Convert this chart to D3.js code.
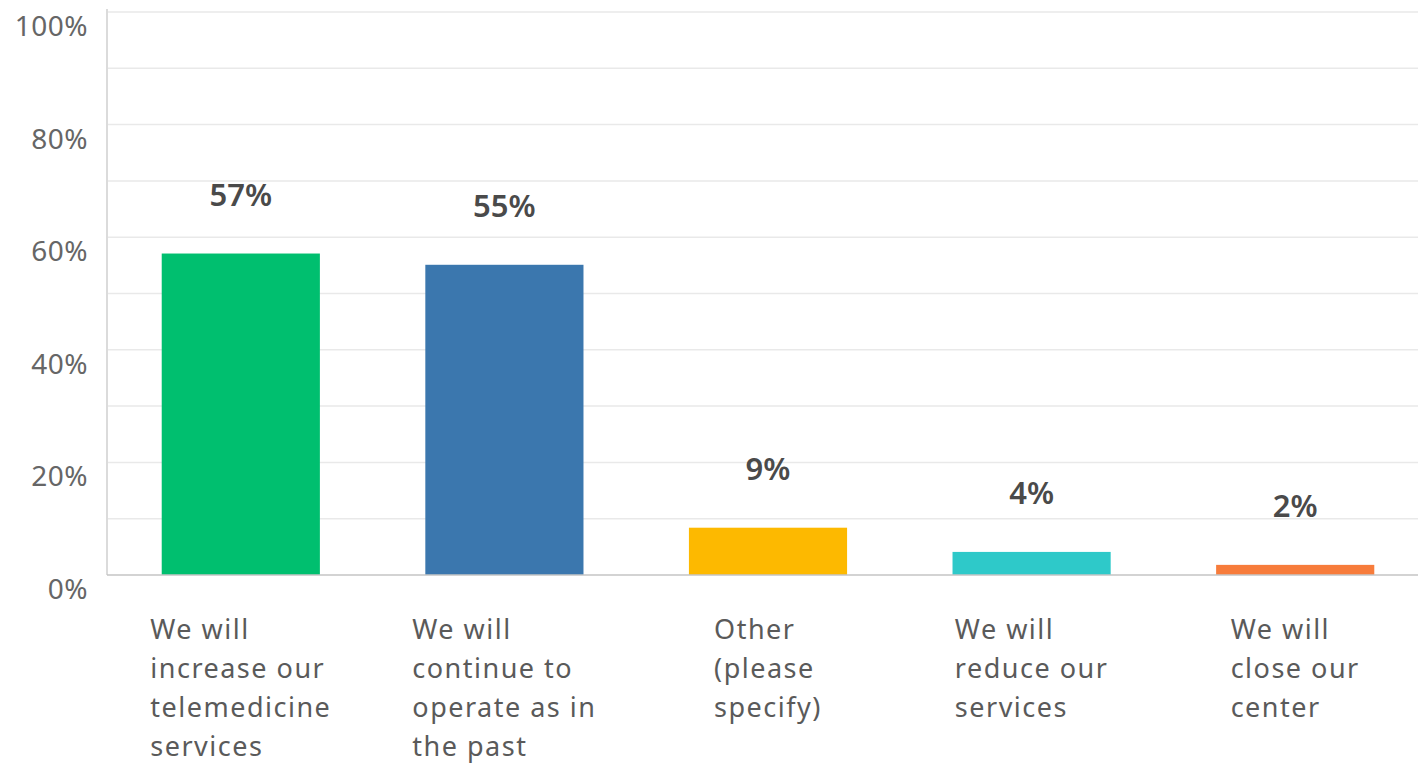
<!DOCTYPE html>
<html><head><meta charset="utf-8">
<script src="https://cdn.jsdelivr.net/npm/d3@7"></script>
<style>body{margin:0;background:#fff}svg{display:block}</style>
</head><body><svg id="c" width="1418" height="764"></svg>
<script>
const categories = [
  ["We will","increase our","telemedicine","services"],
  ["We will","continue to","operate as in","the past"],
  ["Other","(please","specify)"],
  ["We will","reduce our","services"],
  ["We will","close our","center"]
];
const values = [57.1, 55.1, 8.4, 4.1, 1.8];
const valueLabels = ["57%","55%","9%","4%","2%"];
const colors = ["#00bf6f","#3b77ae","#fdb900","#2ec9c9","#f77c3b"];
const yTicks = [0,20,40,60,80,100];
const gridTicks = [10,20,30,40,50,60,70,80,90,100];

const svg = d3.select("#c");
const x = d3.scaleBand().domain(d3.range(categories.length)).range([109,1427]).paddingInner(0.4).paddingOuter(0.2);
const y = d3.scaleLinear().domain([0,100]).range([575,12]);

svg.append("g").selectAll("line").data(gridTicks).join("line")
  .attr("x1",108).attr("x2",1418).attr("y1",d=>y(d)).attr("y2",d=>y(d))
  .attr("stroke","#e9e9e9").attr("stroke-width",1.5);

svg.append("line").attr("x1",107).attr("x2",107).attr("y1",9).attr("y2",575)
  .attr("stroke","#cfcfcf").attr("stroke-width",1.5);

svg.append("g").selectAll("rect").data(values).join("rect")
  .attr("x",(d,i)=>x(i)).attr("width",x.bandwidth())
  .attr("y",d=>y(d)).attr("height",d=>y(0)-y(d))
  .attr("fill",(d,i)=>colors[i]);

svg.append("line").attr("x1",107).attr("x2",1418).attr("y1",575).attr("y2",575)
  .attr("stroke","#c4c4c4").attr("stroke-width",1.5);

svg.append("g").selectAll("text").data(yTicks).join("text")
  .attr("x",88).attr("y",d=>y(d)+24).attr("text-anchor","end")
  .attr("font-family","Noto Sans, sans-serif").attr("font-size",28).attr("fill","#666")
  .attr("letter-spacing",0.5)
  .text(d=>d+"%");

svg.append("g").selectAll("text").data(values).join("text")
  .attr("x",(d,i)=>x(i)+x.bandwidth()/2).attr("y",d=>y(d)-48)
  .attr("text-anchor","middle").attr("font-family","Noto Sans, sans-serif")
  .attr("font-weight",600).attr("font-size",31).attr("fill","#4a4a4a")
  .text((d,i)=>valueLabels[i]);

const catG = svg.append("g");
categories.forEach((lines,i)=>{
  const t = catG.append("text").attr("font-family","Noto Sans, sans-serif")
    .attr("font-size",27).attr("fill","#5a5a5a").attr("letter-spacing",1.5);
  lines.forEach((l,j)=>t.append("tspan").attr("x",0).attr("y",639+j*39).text(l));
  const w = d3.max(t.selectAll("tspan").nodes(), n=>n.getComputedTextLength());
  const cx = x(i)+x.bandwidth()/2;
  t.selectAll("tspan").attr("x",cx-w/2);
});
</script></body></html>
